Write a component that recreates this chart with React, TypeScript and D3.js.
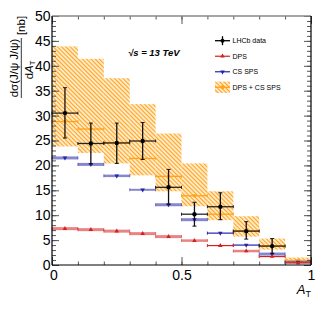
import React, { useEffect, useRef } from 'react';
import * as d3 from 'd3';

// bin edges in A_T
const binEdges = [0, 0.1, 0.2, 0.3, 0.4, 0.5, 0.6, 0.7, 0.8, 0.9, 1.0];

// LHCb data (last bin empty)
const lhcb = [30.5, 24.4, 24.5, 24.9, 15.6, 10.2, 11.7, 6.8, 3.8];
const lhcbLo = [25.5, 20.3, 20.4, 21.2, 12.2, 7.8, 9.1, 5.2, 2.3];
const lhcbHi = [35.6, 28.5, 28.5, 28.6, 19.2, 12.6, 14.5, 8.7, 5.3];

// DPS + CS SPS
const sum = [28.8, 27.3, 24.6, 21.4, 17.8, 13.9, 10.2, 6.9, 3.8, 0.9];
const sumLo = [23.8, 22.5, 20.4, 18.0, 14.8, 11.8, 9.0, 5.7, 3.1, 0.5];
const sumHi = [43.9, 41.4, 37.5, 32.3, 26.4, 20.4, 14.8, 9.8, 5.3, 1.5];

// CS SPS
const sps = [21.5, 20.2, 17.9, 15.1, 12.1, 9.1, 6.4, 4.0, 2.2, 0.6];
const spsErr = [0.3, 0.3, 0.25, 0.2, 0.3, 0.3, 0.1, 0.1, 0.3, 0.1];

// DPS
const dps = [7.3, 7.1, 6.8, 6.3, 5.7, 4.9, 3.9, 2.8, 1.7, 0.4];
const dpsErr = [0.3, 0.3, 0.3, 0.3, 0.3, 0.25, 0.1, 0.25, 0.1, 0.1];

const yMajor = [0, 5, 10, 15, 20, 25, 30, 35, 40, 45, 50];
const xMajor = [0, 0.5, 1];

const legendLabels = ['LHCb data', 'DPS', 'CS SPS', 'DPS + CS SPS'];

export default function App() {
  const svgRef = useRef<SVGSVGElement>(null);

  useEffect(() => {
    const w = 327;
    const h = 316;
    const orange = '#ffa31a';
    const red = '#d61f1f';
    const blue = '#2424a8';
    const font = '"Liberation Sans", Arial, Helvetica, sans-serif';

    const svg = d3.select(svgRef.current)
      .attr('width', w)
      .attr('height', h)
      .style('background', 'white')
      .style('font-family', font);
    svg.selectAll('*').remove();

    const x = d3.scaleLinear().domain([0, 1]).range([52, 311]);
    const y = d3.scaleLinear().domain([0, 50]).range([265, 16]);

    // hatch pattern
    const pat = svg.append('defs').append('pattern')
      .attr('id', 'hatch')
      .attr('patternUnits', 'userSpaceOnUse')
      .attr('width', 3)
      .attr('height', 3)
      .attr('patternTransform', 'rotate(-45)');
    pat.append('line')
      .attr('x1', 1.5).attr('y1', -1).attr('x2', 1.5).attr('y2', 4)
      .attr('stroke', orange).attr('stroke-width', 1.5);

    const bins = d3.range(binEdges.length - 1).map(i => ({
      lo: binEdges[i], hi: binEdges[i + 1], mid: (binEdges[i] + binEdges[i + 1]) / 2
    }));

    // hatched uncertainty band
    svg.append('g').selectAll('rect')
      .data(bins)
      .join('rect')
        .attr('x', d => x(d.lo))
        .attr('width', d => x(d.hi) - x(d.lo))
        .attr('y', (d, i) => y(sumHi[i]))
        .attr('height', (d, i) => y(sumLo[i]) - y(sumHi[i]))
        .attr('fill', 'url(#hatch)');

    // helper for horizontal bin line with end caps
    const binLine = (g, i, v, color, width, opacity) => {
      const b = bins[i];
      g.append('line')
        .attr('x1', x(b.lo)).attr('x2', x(b.hi))
        .attr('y1', y(v)).attr('y2', y(v))
        .attr('stroke', color).attr('stroke-width', width)
        .attr('stroke-opacity', opacity);
      [b.lo, b.hi].forEach(e => {
        g.append('line')
          .attr('x1', x(e)).attr('x2', x(e))
          .attr('y1', y(v) - 1.5).attr('y2', y(v) + 1.5)
          .attr('stroke', color).attr('stroke-width', 1)
          .attr('stroke-opacity', opacity);
      });
    };

    // orange central values
    const gSum = svg.append('g');
    sum.forEach((v, i) => {
      binLine(gSum, i, v, orange, 1.3, 1);
      gSum.append('circle')
        .attr('cx', x(bins[i].mid)).attr('cy', y(v)).attr('r', 1.8)
        .attr('fill', orange);
    });

    // model curves
    const model = (vals, errs, color, sym, rot) => {
      const g = svg.append('g');
      vals.forEach((v, i) => {
        const px = Math.max(2 * errs[i] * 5, 1.2);
        const light = errs[i] >= 0.2;
        binLine(g, i, v, color, px, light ? 0.55 : 1);
        g.append('path')
          .attr('d', d3.symbol(sym, 9)())
          .attr('transform', `translate(${x(bins[i].mid)},${y(v)}) rotate(${rot})`)
          .attr('fill', color);
      });
    };
    model(sps, spsErr, blue, d3.symbolTriangle, 180);
    model(dps, dpsErr, red, d3.symbolTriangle, 0);

    // LHCb data
    const gData = svg.append('g');
    lhcb.forEach((v, i) => {
      const b = bins[i];
      const cx = x(b.mid);
      binLine(gData, i, v, '#111', 1.3, 0.9);
      gData.append('line')
        .attr('x1', cx).attr('x2', cx)
        .attr('y1', y(lhcbHi[i])).attr('y2', y(lhcbLo[i]))
        .attr('stroke', '#111').attr('stroke-width', 1.3);
      [lhcbHi[i], lhcbLo[i]].forEach(e => {
        gData.append('line')
          .attr('x1', cx - 2).attr('x2', cx + 2)
          .attr('y1', y(e)).attr('y2', y(e))
          .attr('stroke', '#111').attr('stroke-width', 1);
      });
      gData.append('circle')
        .attr('cx', cx).attr('cy', y(v)).attr('r', 2.2)
        .attr('fill', '#000');
    });

    // axes
    const styleAxis = g => {
      g.select('.domain').remove();
      g.selectAll('line').attr('stroke', '#555');
      g.selectAll('text')
        .attr('fill', '#000')
        .style('font-family', font)
        .style('font-size', '14px');
    };

    svg.append('g')
      .attr('transform', `translate(${x(0)},0)`)
      .call(d3.axisLeft(y).tickValues(yMajor).tickSize(-7).tickPadding(1.5))
      .call(styleAxis);
    svg.append('g')
      .attr('transform', `translate(${x(0)},0)`)
      .call(d3.axisLeft(y).ticks(50).tickSize(-4).tickFormat(() => ''))
      .call(styleAxis);
    svg.append('g')
      .attr('transform', `translate(${x(1)},0)`)
      .call(d3.axisRight(y).tickValues(yMajor).tickSize(-7).tickFormat(() => ''))
      .call(styleAxis);
    svg.append('g')
      .attr('transform', `translate(${x(1)},0)`)
      .call(d3.axisRight(y).ticks(50).tickSize(-4).tickFormat(() => ''))
      .call(styleAxis);

    const xAxisG = svg.append('g')
      .attr('transform', `translate(0,${y(0)})`)
      .call(d3.axisBottom(x).tickValues(xMajor).tickSize(-8).tickPadding(5.5).tickFormat(d3.format('~g')))
      .call(styleAxis);
    // nudge the "0" label right a little, as in the original
    xAxisG.selectAll('text').filter(d => d === 0).attr('x', 1.5);
    svg.append('g')
      .attr('transform', `translate(0,${y(0)})`)
      .call(d3.axisBottom(x).ticks(10).tickSize(-3.5).tickFormat(() => ''))
      .call(styleAxis);
    svg.append('g')
      .attr('transform', `translate(0,${y(50)})`)
      .call(d3.axisTop(x).tickValues(xMajor).tickSize(-8).tickFormat(() => ''))
      .call(styleAxis);
    svg.append('g')
      .attr('transform', `translate(0,${y(50)})`)
      .call(d3.axisTop(x).ticks(10).tickSize(-3.5).tickFormat(() => ''))
      .call(styleAxis);

    // frame
    svg.append('line').attr('x1', x(0)).attr('x2', x(1)).attr('y1', y(50)).attr('y2', y(50))
      .attr('stroke', '#888').attr('stroke-width', 1.5);
    svg.append('line').attr('x1', x(0)).attr('x2', x(1)).attr('y1', y(0)).attr('y2', y(0))
      .attr('stroke', '#000').attr('stroke-width', 1.2);
    svg.append('line').attr('x1', x(0)).attr('x2', x(0)).attr('y1', y(0)).attr('y2', y(50))
      .attr('stroke', '#000').attr('stroke-width', 1.2);
    svg.append('line').attr('x1', x(1)).attr('x2', x(1)).attr('y1', y(0)).attr('y2', y(50))
      .attr('stroke', '#000').attr('stroke-width', 1.2);

    // x title
    const xt = svg.append('text')
      .attr('x', 311).attr('y', 294)
      .attr('text-anchor', 'end')
      .style('font-size', '13px');
    xt.append('tspan').style('font-style', 'italic').text('A');
    xt.append('tspan').attr('dy', 3).style('font-size', '9px').text('T');

    // y title (fraction)
    const yt = svg.append('g').attr('transform', 'rotate(-90)');
    yt.append('text')
      .attr('x', -68).attr('y', 18)
      .attr('text-anchor', 'middle')
      .style('font-size', '11.5px')
      .text('dσ(J/ψ J/ψ)');
    yt.append('line')
      .attr('x1', -98).attr('x2', -38).attr('y1', 21.3).attr('y2', 21.3)
      .attr('stroke', '#000').attr('stroke-width', 0.8);
    const den = yt.append('text')
      .attr('x', -70).attr('y', 32.5)
      .attr('text-anchor', 'middle')
      .style('font-size', '11.5px');
    den.append('tspan').text('d');
    den.append('tspan').style('font-style', 'italic').text('A');
    den.append('tspan').attr('dy', 2.5).style('font-size', '7.5px').text('T');
    yt.append('text')
      .attr('x', -25.5).attr('y', 25)
      .attr('text-anchor', 'middle')
      .style('font-size', '11.5px')
      .text('[nb]');

    // energy label
    svg.append('text')
      .attr('x', 128).attr('y', 55.5)
      .style('font-size', '9.5px')
      .style('font-weight', 'bold')
      .style('font-style', 'italic')
      .text('√s = 13 TeV');

    // legend
    const lx0 = 215;
    const lx1 = 230;
    const lmid = (lx0 + lx1) / 2;
    const ly = d3.scalePoint().domain(legendLabels).range([40.7, 87.3]);
    const lg = svg.append('g');

    // LHCb entry
    const y0 = ly(legendLabels[0]);
    lg.append('line').attr('x1', lx0).attr('x2', lx1).attr('y1', y0).attr('y2', y0)
      .attr('stroke', '#000').attr('stroke-width', 1.3);
    lg.append('line').attr('x1', lmid).attr('x2', lmid).attr('y1', y0 - 4.5).attr('y2', y0 + 4.5)
      .attr('stroke', '#000').attr('stroke-width', 1.3);
    lg.append('circle').attr('cx', lmid).attr('cy', y0).attr('r', 2).attr('fill', '#000');

    // DPS / CS SPS entries
    [[legendLabels[1], red, 0], [legendLabels[2], blue, 180]].forEach(([lab, c, rot]) => {
      const yy = ly(lab);
      lg.append('line').attr('x1', lx0).attr('x2', lx1).attr('y1', yy).attr('y2', yy)
        .attr('stroke', c).attr('stroke-width', 1.2);
      lg.append('path')
        .attr('d', d3.symbol(d3.symbolTriangle, 9)())
        .attr('transform', `translate(${lmid},${yy}) rotate(${rot})`)
        .attr('fill', c);
    });

    // DPS + CS SPS entry
    const y3 = ly(legendLabels[3]);
    lg.append('rect').attr('x', lx0).attr('y', y3 - 5.7).attr('width', lx1 - lx0).attr('height', 11.4)
      .attr('fill', 'url(#hatch)');
    lg.append('line').attr('x1', lx0).attr('x2', lx1).attr('y1', y3).attr('y2', y3)
      .attr('stroke', orange).attr('stroke-width', 1.3);
    lg.append('circle').attr('cx', lmid).attr('cy', y3).attr('r', 2).attr('fill', orange);

    lg.selectAll('text.lab')
      .data(legendLabels)
      .join('text')
        .attr('class', 'lab')
        .attr('x', 232.5)
        .attr('y', d => ly(d))
        .attr('dy', '0.35em')
        .style('font-size', '7px')
        .text(d => d);
  }, []);

  return (
    <div style={{ position: 'absolute', left: 0, top: 0 }}>
      <svg ref={svgRef}></svg>
    </div>
  );
}
